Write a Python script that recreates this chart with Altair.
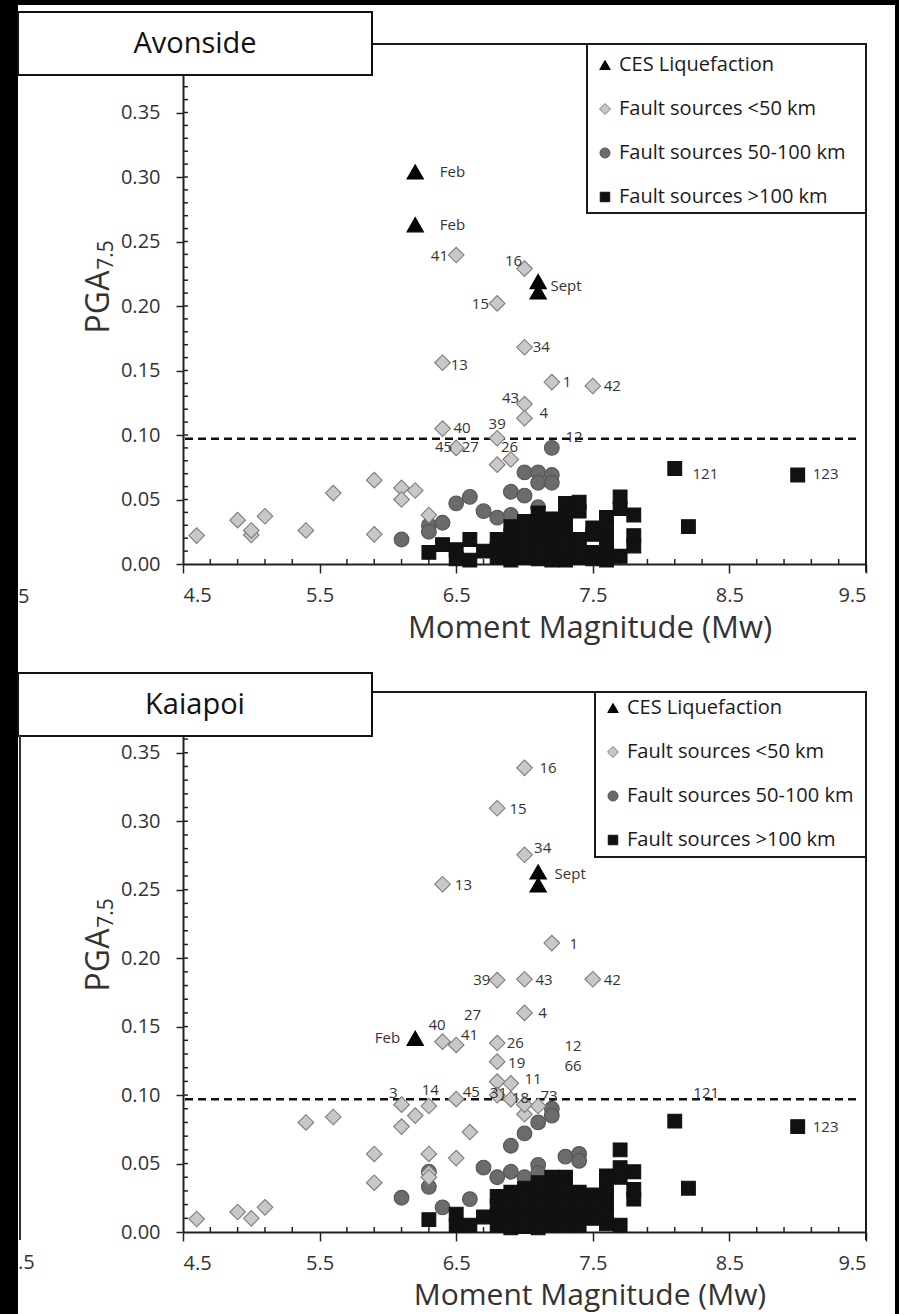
import altair as alt
import pandas as pd

# ---------------- data ----------------
CATS = ["CES Liquefaction", "Fault sources <50 km", "Fault sources 50-100 km", "Fault sources >100 km"]
SHAPES = ["triangle-up", "diamond", "circle", "square"]
FILLS = ["#050505", "#c8c8c8", "#6b6b6b", "#111111"]
STROKES = ["#000000", "#7c7c7c", "#555555", "#111111"]
SIZES = [270, 190, 165, 150]
LEG_SIZES = [110, 120, 100, 90]

X_TICKS = [4.5, 5.5, 6.5, 7.5, 8.5, 9.5]
X_MINOR = [4.7, 4.9, 5.1, 5.3, 5.7, 5.9, 6.1, 6.3, 6.7, 6.9, 7.1, 7.3, 7.7, 7.9, 8.1, 8.3, 8.7, 8.9, 9.1, 9.3]
Y_TICKS = [0.0, 0.05, 0.10, 0.15, 0.20, 0.25, 0.30, 0.35]
Y_INNER = [0.01, 0.02, 0.03, 0.04, 0.05, 0.06, 0.07, 0.08, 0.09, 0.10, 0.11, 0.12, 0.13, 0.14, 0.15,
           0.16, 0.17, 0.18, 0.19, 0.20, 0.21, 0.22, 0.23, 0.24, 0.25, 0.26, 0.27, 0.28, 0.29, 0.30,
           0.31, 0.32, 0.33, 0.34, 0.35, 0.36, 0.37, 0.38, 0.39]
THRESH = [0.097]

# ---- Avonside ----
AV_TRI_X = [6.2, 6.2, 7.1, 7.1]
AV_TRI_Y = [0.304, 0.263, 0.219, 0.211]
AV_DIA_X = [6.5, 7.0, 6.8, 7.0, 6.4, 7.2, 7.5, 7.0, 7.0, 6.4, 6.8, 6.5, 6.9, 6.8,
            4.6, 4.9, 5.0, 5.0, 5.1, 5.4, 5.6, 5.9, 5.9, 6.1, 6.1, 6.2, 6.3]
AV_DIA_Y = [0.2395, 0.229, 0.202, 0.168, 0.156, 0.141, 0.138, 0.124, 0.113, 0.105, 0.0975, 0.090, 0.081, 0.077,
            0.022, 0.034, 0.0225, 0.026, 0.037, 0.026, 0.055, 0.065, 0.023, 0.059, 0.050, 0.057, 0.038]
AV_CIR_X = [6.1, 6.3, 6.3, 6.4, 6.5, 6.6, 6.7, 6.8, 6.9, 6.9, 7.0, 7.0, 7.1, 7.1, 7.1, 7.2, 7.2, 7.2]
AV_CIR_Y = [0.019, 0.030, 0.025, 0.032, 0.047, 0.052, 0.041, 0.036, 0.038, 0.056, 0.053, 0.071, 0.071, 0.063,
            0.044, 0.069, 0.063, 0.090]
AV_SQ_X = [6.3, 6.4, 6.5, 6.5, 6.6, 6.6, 6.7, 6.8, 6.8, 6.8,
           6.9, 6.9, 6.9, 6.9, 6.9, 7.0, 7.0, 7.0, 7.0, 7.0,
           7.1, 7.1, 7.1, 7.1, 7.1, 7.1, 7.2, 7.2, 7.2, 7.2, 7.2, 7.2,
           7.3, 7.3, 7.3, 7.3, 7.3, 7.3, 7.3, 7.4, 7.4, 7.4, 7.4, 7.4,
           7.5, 7.5, 7.5, 7.5, 7.6, 7.6, 7.6, 7.6, 7.6, 7.6,
           7.7, 7.7, 7.7, 7.8, 7.8, 7.8, 8.1, 8.2, 9.0]
AV_SQ_Y = [0.009, 0.015, 0.011, 0.004, 0.019, 0.003, 0.010, 0.019, 0.012, 0.005,
           0.029, 0.022, 0.015, 0.008, 0.003, 0.033, 0.026, 0.019, 0.012, 0.005,
           0.0395, 0.032, 0.025, 0.018, 0.011, 0.004, 0.035, 0.028, 0.021, 0.014, 0.007, 0.003,
           0.047, 0.038, 0.031, 0.024, 0.017, 0.010, 0.003, 0.048, 0.041, 0.019, 0.012, 0.005,
           0.028, 0.023, 0.009, 0.004, 0.036, 0.029, 0.022, 0.015, 0.008, 0.003,
           0.052, 0.043, 0.006, 0.038, 0.022, 0.014, 0.074, 0.029, 0.069]
AV_LAB_T = ["Feb", "Feb", "41", "16", "Sept", "15", "34", "13", "1", "42", "43", "4", "40", "39",
            "45", "27", "26", "12", "121", "123"]
AV_LAB_X = [6.38, 6.38, 6.44, 6.92, 7.19, 6.74, 7.06, 6.46, 7.28, 7.58, 6.96, 7.11, 6.48, 6.80,
            6.47, 6.54, 6.89, 7.30, 8.23, 9.11]
AV_LAB_Y = [0.304, 0.263, 0.239, 0.235, 0.2155, 0.2015, 0.168, 0.154, 0.141, 0.138, 0.1287, 0.117, 0.1058, 0.1085,
            0.0905, 0.0905, 0.0905, 0.0985, 0.070, 0.070]
AV_LAB_A = ["left", "left", "right", "center", "left", "right", "left", "left", "left", "left", "right", "left",
            "left", "center", "right", "left", "center", "left", "left", "left"]

# ---- Kaiapoi ----
KA_TRI_X = [7.1, 7.1, 6.2]
KA_TRI_Y = [0.263, 0.2535, 0.1415]
KA_DIA_X = [7.0, 6.8, 7.0, 6.4, 7.2, 6.8, 7.0, 7.5, 7.0, 6.4, 6.5, 6.8, 6.8, 6.8, 6.9,
            4.6, 4.9, 5.0, 5.1, 5.4, 5.6, 5.9, 5.9, 6.1, 6.1, 6.2, 6.3, 6.3, 6.3, 6.3,
            6.5, 6.5, 6.6, 6.8, 6.9, 7.0, 7.0, 7.1]
KA_DIA_Y = [0.339, 0.3095, 0.2755, 0.254, 0.211, 0.184, 0.1846, 0.1846, 0.160, 0.139, 0.1366, 0.138, 0.1244,
            0.1098, 0.1086,
            0.0095, 0.0146, 0.010, 0.018, 0.080, 0.084, 0.057, 0.036, 0.093, 0.077, 0.085, 0.092, 0.057, 0.043,
            0.040, 0.097, 0.054, 0.073, 0.100, 0.097, 0.086, 0.093, 0.092]
KA_CIR_X = [6.1, 6.3, 6.3, 6.4, 6.6, 6.7, 6.8, 6.9, 6.9, 7.0, 7.0, 7.1, 7.1, 7.1, 7.2, 7.2, 7.3, 7.4, 7.4]
KA_CIR_Y = [0.025, 0.044, 0.033, 0.018, 0.024, 0.047, 0.040, 0.063, 0.044, 0.072, 0.040, 0.080, 0.049, 0.043,
            0.090, 0.085, 0.055, 0.057, 0.052]
KA_SQ_X = [6.3, 6.5, 6.5, 6.6, 6.7, 6.8, 6.8, 6.8, 6.8,
           6.9, 6.9, 6.9, 6.9, 6.9, 7.0, 7.0, 7.0, 7.0, 7.0,
           7.1, 7.1, 7.1, 7.1, 7.1, 7.1, 7.2, 7.2, 7.2, 7.2, 7.2, 7.2,
           7.3, 7.3, 7.3, 7.3, 7.3, 7.3, 7.4, 7.4, 7.4, 7.4, 7.5, 7.5, 7.5,
           7.6, 7.6, 7.6, 7.6, 7.6, 7.6, 7.7, 7.7, 7.7, 7.7, 7.8, 7.8, 7.8, 8.1, 8.2, 9.0]
KA_SQ_Y = [0.009, 0.013, 0.005, 0.005, 0.011, 0.026, 0.019, 0.012, 0.005,
           0.029, 0.022, 0.015, 0.008, 0.003, 0.032, 0.025, 0.018, 0.011, 0.004,
           0.036, 0.029, 0.022, 0.015, 0.008, 0.003, 0.040, 0.033, 0.026, 0.019, 0.012, 0.005,
           0.040, 0.033, 0.026, 0.019, 0.012, 0.005, 0.029, 0.020, 0.012, 0.005, 0.027, 0.020, 0.010,
           0.041, 0.034, 0.027, 0.020, 0.013, 0.006, 0.060, 0.047, 0.040, 0.005, 0.044, 0.031, 0.024,
           0.081, 0.032, 0.077]
KA_LAB_T = ["16", "15", "34", "Sept", "13", "1", "39", "43", "42", "4", "Feb", "40", "27", "41", "26", "19",
            "12", "66", "11", "121", "3", "14", "45", "31", "18", "73", "123"]
KA_LAB_X = [7.11, 6.89, 7.07, 7.22, 6.49, 7.33, 6.75, 7.08, 7.58, 7.10, 6.09, 6.36, 6.62, 6.535, 6.87, 6.88,
            7.355, 7.355, 7.00, 8.33, 6.04, 6.31, 6.61, 6.81, 6.97, 7.18, 9.11]
KA_LAB_Y = [0.339, 0.309, 0.2805, 0.2615, 0.2535, 0.2104, 0.184, 0.184, 0.184, 0.160, 0.1417, 0.151, 0.1585,
            0.1439, 0.138, 0.1234, 0.1355, 0.1215, 0.1115, 0.1015, 0.1015, 0.1037, 0.1023, 0.1015, 0.0980,
            0.0995, 0.077]
KA_LAB_A = ["left", "left", "left", "left", "left", "left", "right", "left", "left", "left", "right", "center",
            "center", "left", "left", "left", "center", "center", "left", "center", "center", "center",
            "center", "center", "center", "center", "left"]

FONT = "Open Sans"
W = 683
ONE = pd.DataFrame({"k": [0]})


def points_frame(tri_x, tri_y, dia_x, dia_y, cir_x, cir_y, sq_x, sq_y):
    parts = []
    for xs, ys, c in [(cir_x, cir_y, CATS[2]), (sq_x, sq_y, CATS[3]),
                      (dia_x, dia_y, CATS[1]), (tri_x, tri_y, CATS[0])]:
        parts.append(pd.DataFrame({"x": xs, "y": ys, "cat": c}))
    df = pd.concat(parts, ignore_index=True)
    df["order"] = range(len(df))
    return df


def deco_rect(x, x2, y, y2, fill, stroke=None, sw=0):
    kw = dict(fill=fill)
    if stroke is not None:
        kw.update(stroke=stroke, strokeWidth=sw)
    return alt.Chart(ONE).mark_rect(**kw).encode(
        x=alt.value(x), x2=alt.value(x2), y=alt.value(y), y2=alt.value(y2))


def deco_rule(x, x2, y, y2, color="#1a1a1a", sw=2):
    return alt.Chart(ONE).mark_rule(color=color, strokeWidth=sw).encode(
        x=alt.value(x), x2=alt.value(x2), y=alt.value(y), y2=alt.value(y2))


def deco_text(txt, x, y, size, angle=0, align="center", color="#1a1a1a"):
    kw = dict(text=txt, font=FONT, fontSize=size, color=color, align=align, baseline="middle")
    if angle:
        kw["angle"] = angle
    return alt.Chart(ONE).mark_text(**kw).encode(x=alt.value(x), y=alt.value(y))


def legend_layers(sx, y0, step):
    out = []
    for i, cat in enumerate(CATS):
        out.append(alt.Chart(ONE).mark_point(
            shape=SHAPES[i], filled=True, fill=FILLS[i], stroke=STROKES[i], strokeWidth=1,
            size=LEG_SIZES[i], opacity=1).encode(x=alt.value(sx), y=alt.value(y0 + i * step)))
        out.append(deco_text(cat, sx + 14, y0 + i * step, 20, align="left", color="#1a1a1a"))
    return out


def panel(name, H, ymax, pts, lab, g):
    xs = alt.Scale(domain=[4.5, 9.5], nice=False, zero=False)
    ys = alt.Scale(domain=[0, ymax], nice=False, zero=False)
    xax = alt.Axis(values=X_TICKS, format=".1f", title=None, grid=False, labelFont=FONT, labelFontSize=20,
                   labelColor="#333333", tickSize=9, tickWidth=1.5, tickColor="#222222",
                   domainColor="#222222", domainWidth=2, labelPadding=12)
    yax = alt.Axis(values=Y_TICKS, format=".2f", title=None, grid=False, labelFont=FONT, labelFontSize=20,
                   labelColor="#333333", tickSize=7, tickWidth=1.5, tickColor="#222222",
                   domainColor="#222222", domainWidth=2, labelPadding=16)
    X = alt.X("x:Q", scale=xs, axis=xax)
    Y = alt.Y("y:Q", scale=ys, axis=yax)

    layers = []
    layers += g.get("pre", [])
    # frame lines
    layers.append(deco_rule(189, W, g["fy"], g["fy"]))
    layers.append(deco_rule(W, W, g["fy"], H + 8))
    # inner ticks
    layers.append(alt.Chart(pd.DataFrame({"x": X_MINOR})).mark_rule(color="#222222", strokeWidth=1.5).encode(
        x=X, y=alt.value(H - 5), y2=alt.value(H)))
    layers.append(alt.Chart(pd.DataFrame({"y": Y_INNER})).mark_rule(color="#222222", strokeWidth=1.5).encode(
        y=Y, x=alt.value(0), x2=alt.value(5)))
    # threshold
    layers.append(alt.Chart(pd.DataFrame({"y": THRESH})).mark_rule(
        color="#111111", strokeWidth=2.5, strokeDash=[8, 5]).encode(y=Y, x=alt.value(2), x2=alt.value(W - 6)))
    # points
    layers.append(alt.Chart(pts).mark_point(filled=True, opacity=1, strokeWidth=1.1).encode(
        x=X, y=Y,
        shape=alt.Shape("cat:N", scale=alt.Scale(domain=CATS, range=SHAPES), legend=None),
        fill=alt.Fill("cat:N", scale=alt.Scale(domain=CATS, range=FILLS), legend=None),
        stroke=alt.Stroke("cat:N", scale=alt.Scale(domain=CATS, range=STROKES), legend=None),
        size=alt.Size("cat:N", scale=alt.Scale(domain=CATS, range=SIZES), legend=None),
        order=alt.Order("order:Q"),
    ))
    # labels
    for a in ["left", "right", "center"]:
        layers.append(alt.Chart(lab).transform_filter(alt.datum.a == a).mark_text(
            align=a, baseline="middle", font=FONT, fontSize=15, color="#333333").encode(
            x=X, y=Y, text="t:N"))
    # legend box and entries
    layers.append(deco_rect(g["lbx"], W, g["lby"], g["lby2"], "white", "#1a1a1a", 2))
    layers += legend_layers(g["lsx"], g["ly0"], 44)
    # title box
    layers.append(deco_rect(-165, 189, g["by"], g["by2"], "white", "#111111", 2))
    layers.append(deco_text(name, 12, (g["by"] + g["by2"]) / 2, 29, color="#111111"))
    # axis titles
    layers.append(deco_text("PGA", -84, g["pga"], 32, angle=270, color="#333333"))
    layers.append(deco_text("7.5", -76, g["pga"] - 47, 21, angle=270, color="#333333"))
    layers.append(deco_text("Moment Magnitude (Mw)", 407, g["xt"], g["xts"], color="#333333"))
    layers += g.get("post", [])
    return alt.layer(*layers).properties(width=W, height=H)


av_pts = points_frame(AV_TRI_X, AV_TRI_Y, AV_DIA_X, AV_DIA_Y, AV_CIR_X, AV_CIR_Y, AV_SQ_X, AV_SQ_Y)
ka_pts = points_frame(KA_TRI_X, KA_TRI_Y, KA_DIA_X, KA_DIA_Y, KA_CIR_X, KA_CIR_Y, KA_SQ_X, KA_SQ_Y)
av_lab = pd.DataFrame({"t": AV_LAB_T, "x": AV_LAB_X, "y": AV_LAB_Y, "a": AV_LAB_A})
ka_lab = pd.DataFrame({"t": KA_LAB_T, "x": KA_LAB_X, "y": KA_LAB_Y, "a": KA_LAB_A})

top_pre = [
    deco_rect(-183, -165, -48, 1266, "black"),
    deco_rect(-183, 716, -48, -43, "black"),
    deco_rect(712, 716, -48, 1266, "black"),
]
top = panel("Avonside", 516, 0.40, av_pts, av_lab, dict(
    lbx=404, lby=-4, lby2=165, lsx=422, ly0=17, fy=-4, by=-36, by2=27, pga=254, xt=581, xts=31,
    pre=top_pre, post=[deco_text("5", -165, 549, 20, align="left", color="#333333")]))

bot = panel("Kaiapoi", 534, 0.39, ka_pts, ka_lab, dict(
    lbx=412, lby=-6, lby2=159, lsx=430, ly0=10, fy=-6, by=-25, by2=38, pga=262, xt=598, xts=30,
    pre=[], post=[deco_text(".5", -165, 565, 20, align="left", color="#333333"),
                  deco_rule(-163, -163, 38, 542, color="#333333", sw=2)]))

chart = alt.vconcat(top, bot, spacing=134, bounds="flush").resolve_scale(
    x="independent", y="independent", shape="independent", fill="independent",
    stroke="independent", size="independent").resolve_axis(
    x="independent", y="independent").configure_view(strokeWidth=0).properties(
    background="white", padding=0)

chart.save("out.html", embed_options={"renderer": "svg", "actions": False})
